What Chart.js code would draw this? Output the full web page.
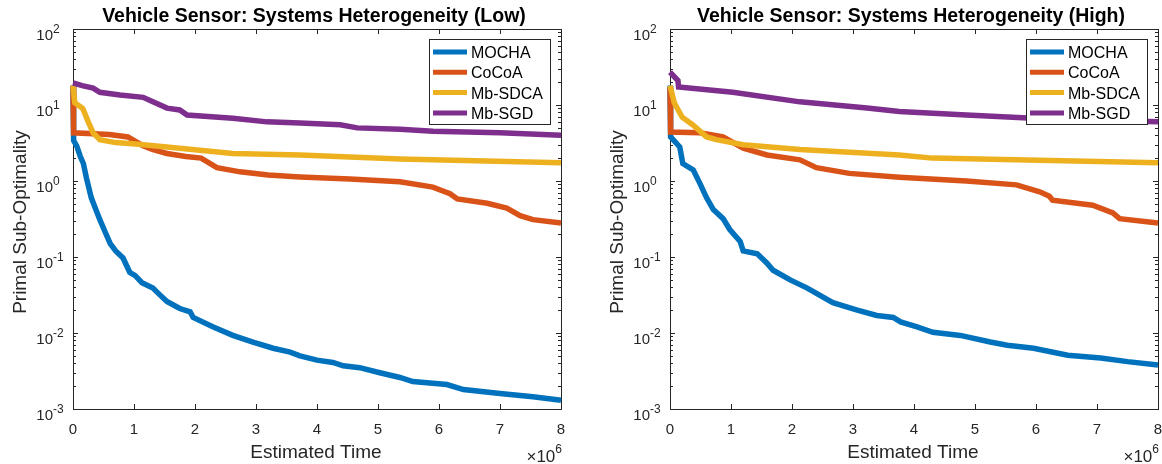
<!DOCTYPE html>
<html>
<head>
<meta charset="utf-8">
<script src="https://cdn.jsdelivr.net/npm/chart.js@4/dist/chart.umd.min.js"></script>
<style>
body { margin: 0; background: #fff; width: 1162px; height: 464px; overflow: hidden; position: relative; }
canvas { position: absolute; top: 0; }
</style>
</head>
<body>
<canvas id="low" width="581" height="464" style="left:0"></canvas>
<canvas id="high" width="581" height="464" style="left:581px"></canvas>
<script>
// series names and colours (matlab default order)
const seriesNames = ['MOCHA', 'CoCoA', 'Mb-SDCA', 'Mb-SGD']
const seriesColors = ['#0072BD', '#D95319', '#EDB120', '#7E2F8E']

// axis ticks
const xTickValues = [0, 1, 2, 3, 4, 5, 6, 7, 8]   // x 1e6
const yExponents = [2, 1, 0, -1, -2, -3]

// [estimated time (x1e6), primal sub-optimality]
const lowMOCHA = [[0,18],[0.01,3.4],[0.06,2.9],[0.12,2.1],[0.17,1.7],[0.22,1.1],[0.3,0.6],[0.36,0.45],[0.44,0.31],[0.52,0.22],[0.61,0.15],[0.7,0.12],[0.82,0.097],[0.93,0.063],[1.02,0.057],[1.13,0.046],[1.31,0.039],[1.42,0.032],[1.54,0.026],[1.75,0.021],[1.92,0.019],[1.97,0.016],[2.3,0.012],[2.62,0.0093],[2.95,0.0076],[3.28,0.0063],[3.56,0.0056],[3.72,0.005],[4.0,0.0044],[4.26,0.0041],[4.43,0.0037],[4.7,0.0035],[5.03,0.003],[5.36,0.0026],[5.57,0.0023],[6.13,0.0021],[6.4,0.0018],[7.0,0.0016],[7.54,0.00145],[8,0.0013]]
const lowCoCoA = [[0,18],[0.01,4.3],[0.6,4.1],[0.9,3.8],[1.15,2.9],[1.3,2.6],[1.54,2.3],[1.85,2.1],[2.1,2.0],[2.36,1.5],[2.74,1.32],[3.2,1.2],[3.72,1.13],[4.54,1.06],[5.36,0.98],[5.9,0.83],[6.18,0.68],[6.3,0.58],[6.79,0.51],[7.11,0.44],[7.33,0.35],[7.54,0.31],[8,0.28]]
const lowSDCA = [[0,18],[0.03,10.7],[0.16,9],[0.25,6],[0.33,4.3],[0.44,3.5],[0.7,3.2],[0.98,3.1],[1.54,2.8],[2.62,2.3],[3.72,2.2],[5.36,1.95],[8,1.74]]
const lowSGD = [[0,19.5],[0.15,18],[0.33,16.7],[0.44,14.7],[0.77,13.5],[1.15,12.6],[1.31,11],[1.54,9.1],[1.75,8.6],[1.87,7.4],[2.62,6.7],[3.18,6.0],[3.72,5.8],[4.38,5.5],[4.66,5.0],[5.36,4.8],[5.9,4.5],[7.0,4.3],[8,4.0]]

const highMOCHA = [[0,18],[0.01,3.8],[0.16,2.8],[0.21,1.7],[0.38,1.4],[0.49,0.93],[0.6,0.6],[0.71,0.42],[0.87,0.32],[0.98,0.23],[1.15,0.16],[1.2,0.12],[1.43,0.11],[1.59,0.083],[1.69,0.067],[1.97,0.05],[2.25,0.039],[2.67,0.025],[3.07,0.02],[3.39,0.017],[3.66,0.016],[3.78,0.014],[4.05,0.012],[4.31,0.0102],[4.76,0.0093],[5.25,0.0076],[5.53,0.0069],[5.96,0.0063],[6.52,0.0051],[7.06,0.0047],[7.5,0.0042],[8,0.0038]]
const highCoCoA = [[0,17],[0.01,4.4],[0.49,4.3],[0.87,3.8],[1.2,2.7],[1.59,2.2],[2.13,1.9],[2.4,1.5],[2.94,1.26],[3.76,1.12],[4.86,1.0],[5.68,0.89],[6.06,0.72],[6.22,0.63],[6.27,0.56],[6.93,0.48],[7.26,0.38],[7.37,0.32],[8,0.28]]
const highSDCA = [[0,18],[0.07,10.7],[0.2,6.9],[0.37,5.5],[0.6,3.8],[0.76,3.5],[1.2,3.0],[2.13,2.6],[3.76,2.2],[4.3,2.0],[8,1.74]]
const highSGD = [[0,27],[0.13,21],[0.14,17.3],[1.03,14.7],[2.13,11],[3.23,9.1],[3.76,8.2],[4.86,7.4],[5.95,6.7],[8,6.0]]

const FONT = '"Liberation Sans", Arial, Helvetica, sans-serif'
const AXIS_COLOR = '#262626'

// matlab style box, inward ticks, 10^n labels and legend
const matlabAxes = {
    id: 'matlabAxes',
    beforeDatasetsDraw(chart) {
        const {ctx, chartArea: a, scales: {x, y}} = chart
        ctx.save()
        ctx.strokeStyle = AXIS_COLOR
        ctx.lineWidth = 1
        ctx.strokeRect(Math.round(a.left) + 0.5, Math.round(a.top) + 0.5, Math.round(a.right - a.left), Math.round(a.bottom - a.top))
        ctx.beginPath()
        xTickValues.forEach(v => {
            let px = Math.round(x.getPixelForValue(v * 1e6)) + 0.5
            ctx.moveTo(px, a.bottom); ctx.lineTo(px, a.bottom - 5)
            ctx.moveTo(px, a.top); ctx.lineTo(px, a.top + 5)
        })
        for (let e = -3; e <= 2; e++) {
            for (let k = 1; k < 10; k++) {
                if (e === 2 && k > 1) break
                let py = Math.round(y.getPixelForValue(k * Math.pow(10, e))) + 0.5
                let len = k === 1 ? 5 : 3
                ctx.moveTo(a.left, py); ctx.lineTo(a.left + len, py)
                ctx.moveTo(a.right, py); ctx.lineTo(a.right - len, py)
            }
        }
        ctx.stroke()
        ctx.restore()
    },
    afterDatasetsDraw(chart) {
        const {ctx, chartArea: a} = chart
        let bx = a.right - 11 - 121, by = a.top + 10
        ctx.save()
        ctx.fillStyle = '#fff'
        ctx.fillRect(bx, by, 121, 85)
        ctx.strokeStyle = AXIS_COLOR
        ctx.lineWidth = 1
        ctx.strokeRect(Math.round(bx) + 0.5, Math.round(by) + 0.5, 121, 85)
        ctx.font = '16px ' + FONT
        ctx.textAlign = 'left'
        ctx.textBaseline = 'alphabetic'
        chart.data.datasets.forEach((ds, i) => {
            let ry = by + 13 + i * 20.3
            ctx.strokeStyle = ds.borderColor
            ctx.lineWidth = 5
            ctx.beginPath()
            ctx.moveTo(bx + 4, ry); ctx.lineTo(bx + 38, ry)
            ctx.stroke()
            ctx.fillStyle = '#000'
            ctx.fillText(ds.label, bx + 42, ry + 6)
        })
        ctx.restore()
    },
    afterDraw(chart) {
        const {ctx, chartArea: a, scales: {x, y}} = chart
        let title = chart.options.plugins.matlabAxes.title
        ctx.save()
        ctx.fillStyle = AXIS_COLOR
        ctx.font = '15px ' + FONT
        ctx.textAlign = 'center'
        ctx.textBaseline = 'alphabetic'
        xTickValues.forEach(v => {
            ctx.fillText(String(v), x.getPixelForValue(v * 1e6), a.bottom + 25)
        })
        yExponents.forEach(e => {
            let py = y.getPixelForValue(Math.pow(10, e))
            ctx.font = '15px ' + FONT
            ctx.textAlign = 'right'
            ctx.fillText('10', a.left - 20, py + 11)
            ctx.font = '12px ' + FONT
            ctx.textAlign = 'left'
            ctx.fillText(String(e), a.left - 20, py + 4)
        })
        // x exponent
        ctx.font = '12px ' + FONT
        ctx.textAlign = 'right'
        ctx.fillText('6', a.right + 1, a.bottom + 44)
        let sw = ctx.measureText('6').width
        ctx.font = '17px ' + FONT
        ctx.fillText('\u00d710', a.right + 1 - sw, a.bottom + 53)
        // axis titles
        let cx = (a.left + a.right) / 2
        ctx.font = '19px ' + FONT
        ctx.textAlign = 'center'
        ctx.fillText('Estimated Time', cx - 1, a.bottom + 49)
        ctx.save()
        ctx.translate(a.left - 47, (a.top + a.bottom) / 2 + 3)
        ctx.rotate(-Math.PI / 2)
        ctx.fillText('Primal Sub-Optimality', 0, 0)
        ctx.restore()
        ctx.fillStyle = '#000'
        ctx.font = 'bold 19.5px ' + FONT
        ctx.fillText(title, cx - 3, 22)
        ctx.restore()
    }
}

function createChart(canvasId, title, series, leftWidth, rightPad) {
    let datasets = series.map((pts, i) => ({
        label: seriesNames[i],
        data: pts.map(p => ({x: p[0] * 1e6, y: p[1]})),
        borderColor: seriesColors[i],
        backgroundColor: seriesColors[i],
        borderWidth: 5.5,
        pointRadius: 0,
        tension: 0,
        clip: 4,
        order: series.length - i   // later series drawn on top
    }))

    new Chart(document.getElementById(canvasId), {
        type: 'line',
        data: {datasets: datasets},
        options: {
            responsive: false,
            animation: false,
            devicePixelRatio: 1,
            layout: {padding: {top: 29, right: rightPad, left: 0, bottom: 0}},
            scales: {
                x: {
                    type: 'linear',
                    min: 0,
                    max: 8e6,
                    grid: {display: false},
                    border: {display: false},
                    ticks: {display: false},
                    afterFit: s => { s.height = 55 }
                },
                y: {
                    type: 'logarithmic',
                    min: 1e-3,
                    max: 1e2,
                    grid: {display: false},
                    border: {display: false},
                    ticks: {display: false},
                    afterFit: s => { s.width = leftWidth }
                }
            },
            plugins: {
                legend: {display: false},
                tooltip: {enabled: false},
                matlabAxes: {title: title}
            }
        },
        plugins: [matlabAxes]
    })
}

createChart('low', 'Vehicle Sensor: Systems Heterogeneity (Low)', [lowMOCHA, lowCoCoA, lowSDCA, lowSGD], 73, 20)
createChart('high', 'Vehicle Sensor: Systems Heterogeneity (High)', [highMOCHA, highCoCoA, highSDCA, highSGD], 89, 4)
</script>
</body>
</html>
